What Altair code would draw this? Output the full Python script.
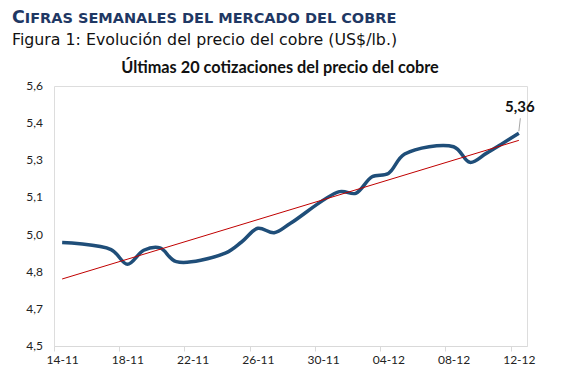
import json
import altair as alt
import pandas as pd

# ---- data ----
dates = ["2025-11-14", "2025-11-17", "2025-11-18", "2025-11-19", "2025-11-20", "2025-11-21",
         "2025-11-24", "2025-11-25", "2025-11-26", "2025-11-27", "2025-11-28",
         "2025-12-01", "2025-12-02", "2025-12-03", "2025-12-04", "2025-12-05",
         "2025-12-08", "2025-12-09", "2025-12-10", "2025-12-11", "2025-12-12"]
prices = [4.938, 4.908, 4.846, 4.905, 4.915, 4.857,
          4.893, 4.940, 4.998, 4.979, 5.019,
          5.153, 5.146, 5.216, 5.230, 5.312,
          5.343, 5.277, 5.315, 5.357, 5.400]
x_tick_labels = ["14-11", "18-11", "22-11", "26-11", "30-11", "04-12", "08-12", "12-12"]
x_tick_days = [0, 4, 8, 12, 16, 20, 24, 28]
y_ticks = [4.5, 4.657, 4.814, 4.971, 5.129, 5.286, 5.443, 5.6]
y_tick_labels = ["4,5", "4,7", "4,8", "5,0", "5,1", "5,3", "5,4", "5,6"]
last_label = "5,36"

header_cap = "C"
header_rest = "IFRAS SEMANALES DEL MERCADO DEL COBRE"
figure_title = "Figura 1: Evolución del precio del cobre (US$/lb.)"
chart_title = "Últimas 20 cotizaciones del precio del cobre"

# ---- tables ----
d = pd.to_datetime(dates)
df = pd.DataFrame({"day": (d - d[0]).days, "price": prices})
last = df.tail(1).assign(label=last_label)
ylab = pd.DataFrame({"price": y_ticks, "label": y_tick_labels})

FONT = "Lato"
x_scale = alt.Scale(domain=[-0.5, 28.5], nice=False, zero=False)
y_scale = alt.Scale(domain=[4.5, 5.6], nice=False, zero=False)

label_expr = json.dumps(x_tick_labels) + "[round(datum.value/4)]"

x_axis = alt.Axis(values=x_tick_days, labelExpr=label_expr, title=None, grid=False,
                  domainColor="#d9d9d9", tickColor="#d9d9d9", tickSize=5,
                  tickOffset=-8.16, labelOffset=8.16, labelPadding=3,
                  labelOverlap=False, labelFlush=False,
                  labelFont=FONT, labelFontSize=12, labelColor="#222222")

base = alt.Chart(df)

line = base.mark_line(color="#1F4E79", strokeWidth=3.5, interpolate="catmull-rom").encode(
    x=alt.X("day:Q", scale=x_scale, axis=x_axis),
    y=alt.Y("price:Q", scale=y_scale, axis=None),
)

trend = base.transform_regression("day", "price", extent=[0, 28]).mark_line(
    color="#C00000", strokeWidth=1
).encode(x="day:Q", y=alt.Y("price:Q", axis=None))

leader = alt.Chart(last).mark_rule(
    color="#a6a6a6", strokeWidth=1, yOffset=-2, y2Offset=-15, x2Offset=1.5
).encode(x="day:Q", x2=alt.X2("day"), y=alt.Y("price:Q", axis=None), y2=alt.Y2("price"))

value_text = alt.Chart(last).mark_text(
    font=FONT, fontSize=15, fontWeight="bold", color="#111111", dy=-21, dx=1, baseline="alphabetic"
).encode(x="day:Q", y=alt.Y("price:Q", axis=None), text="label:N")

y_labels = alt.Chart(ylab).mark_text(
    font=FONT, fontSize=12, color="#222222", align="right", baseline="middle"
).encode(x=alt.value(-11), y=alt.Y("price:Q", axis=None), text="label:N")


def text_layer(txt, x, y, font, size, weight, color, align="left"):
    return alt.Chart(pd.DataFrame({"t": [txt]})).mark_text(
        font=font, fontSize=size, fontWeight=weight, color=color, align=align,
        baseline="alphabetic"
    ).encode(x=alt.value(x), y=alt.value(y), text="t:N")


t1 = text_layer(header_cap, -42, -63.3, "DejaVu Sans", 17.5, "bold", "#1F3864")
t2 = text_layer(header_rest, -29.2, -63.3, "DejaVu Sans", 14.5, "bold", "#1F3864")
t3 = text_layer(figure_title, -42, -41.5, "DejaVu Sans", 15.8, "normal", "#111111")
t4 = text_layer(chart_title, 226, -13, FONT, 16.3, "bold", "#111111", align="center")

chart = alt.layer(line, trend, leader, value_text, y_labels, t1, t2, t3, t4).properties(
    width=473, height=260,
    autosize=alt.AutoSizeParams(type="none"),
    padding={"left": 46, "top": 78, "right": 40, "bottom": 33},
).configure_view(stroke=None).configure(background="white")

chart.save("out.html", embed_options={"renderer": "svg", "actions": False})
